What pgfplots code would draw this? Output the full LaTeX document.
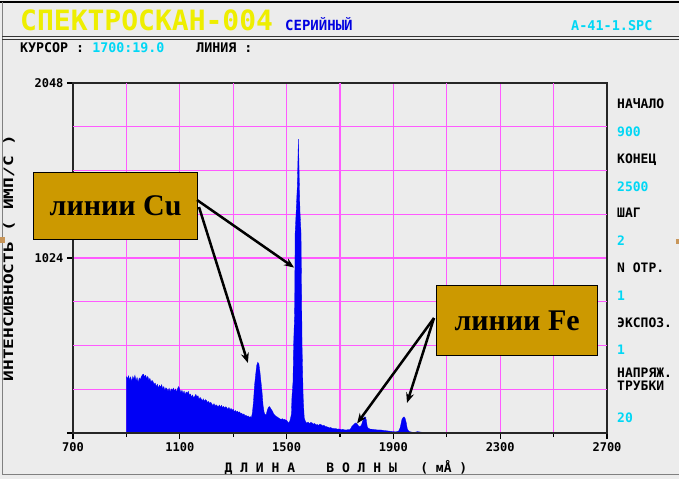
\documentclass[border=0pt]{standalone}
\usepackage{pgfplots}
\pgfplotsset{compat=1.18}
\usepackage{fontspec}
\setmainfont{DejaVu Sans Mono}
\newfontfamily\serifb{Liberation Serif}
\usetikzlibrary{arrows.meta}
\definecolor{bgc}{RGB}{236,236,236}
\definecolor{titley}{RGB}{238,238,0}
\definecolor{blt}{RGB}{0,0,225}
\definecolor{cyn}{RGB}{0,215,245}
\definecolor{gridmag}{RGB}{255,90,255}
\definecolor{specblue}{RGB}{0,0,245}
\definecolor{gold}{RGB}{204,153,0}
\definecolor{tan}{RGB}{200,150,90}
\begin{document}
\begin{tikzpicture}
\fill[bgc] (0,0) rectangle (679pt,-479pt);
% frame lines
\draw[black, line width=1.5pt] (0pt,-2pt) -- (679pt,-2pt);
\draw[gray, line width=1pt] (2pt,-2pt) -- (2pt,-474pt) -- (679pt,-474pt);
\draw[black!80, line width=1pt] (2pt,-36pt) -- (679pt,-36pt);
\draw[black!80, line width=1pt] (2pt,-39.5pt) -- (679pt,-39.5pt);
\fill[tan] (0pt,-237pt) rectangle (5pt,-243pt);
\fill[tan] (676pt,-239pt) rectangle (679pt,-244pt);
% header
\node[anchor=base west, inner sep=0, text=titley] at (20pt,-30pt) {\fontsize{28}{28}\selectfont\bfseries СПЕКТРОСКАН-004};
\node[anchor=base west, inner sep=0, text=blt] at (285pt,-30pt) {\fontsize{14}{14}\selectfont\bfseries СЕРИЙНЫЙ};
\node[anchor=base west, inner sep=0, text=cyn] at (571pt,-30pt) {\fontsize{13.5}{13.5}\selectfont\bfseries A-41-1.SPC};
\node[anchor=base west, inner sep=0] at (20pt,-52pt) {\fontsize{13.3}{13.3}\selectfont\bfseries КУРСОР~:~\textcolor{cyn}{1700:19.0}~~~~ЛИНИЯ~:};
% right panel
\begin{scope}[every node/.style={anchor=base west, inner sep=0, font=\fontsize{13}{13}\selectfont\bfseries}]
\node at (617pt,-108pt) {НАЧАЛО};
\node[text=cyn] at (617pt,-136pt) {900};
\node at (617pt,-163pt) {КОНЕЦ};
\node[text=cyn] at (617pt,-191pt) {2500};
\node at (617pt,-217pt) {ШАГ};
\node[text=cyn] at (617pt,-245pt) {2};
\node at (617pt,-272pt) {N ОТР.};
\node[text=cyn] at (617pt,-300pt) {1};
\node at (617pt,-327pt) {ЭКСПОЗ.};
\node[text=cyn] at (617pt,-354pt) {1};
\node at (617pt,-377pt) {НАПРЯЖ.};
\node at (617pt,-390pt) {ТРУБКИ};
\node[text=cyn] at (617pt,-422pt) {20};
\end{scope}
% axis labels
\node[rotate=90, inner sep=0] at (9pt,-258pt) {\scalebox{1.37}[1]{\fontsize{13}{13}\selectfont\bfseries ИНТЕНСИВНОСТЬ~(~ИМП/С~)}};
\node[inner sep=0] at (346pt,-467pt) {\fontsize{13}{13}\selectfont\bfseries Д~Л~И~Н~А~~~~В~О~Л~Н~Ы~~~(~мÅ~)};
\begin{axis}[
  at={(73pt,-433pt)}, anchor=south west,
  scale only axis, width=534pt, height=350pt,
  xmin=700, xmax=2700, ymin=0, ymax=2048,
  axis line style={line width=1.4pt, black!85},
  xtick={700,1100,1500,1900,2300,2700},
  xticklabels={700,1100,1500,1900,2300,2700},
  ytick={0,1024,2048}, yticklabels={,1024,2048},
  extra x ticks={900,1300,1700,2100,2500}, extra x tick labels={},
  extra x tick style={grid=major, major tick length=4pt},
  extra y ticks={256,512,768,1280,1536,1792}, extra y tick labels={},
  extra y tick style={grid=major, major tick length=0pt},
  tick pos=left, tick align=outside, major tick length=6pt,
  tick style={black, line width=1.2pt},
  grid=major, major grid style={line width=1.3pt, gridmag},
  ticklabel style={font=\fontsize{12}{12}\selectfont\bfseries},
  /pgf/number format/assume math mode=true,
  scaled ticks=false, clip=false,
]
\addplot[draw=specblue, line width=0.3pt, fill=specblue] coordinates {
(900,330) (904,318) (908,335) (912,310) (916,328) (920,300) (924,332) (928,315) (932,338) (936,305)
(940,325) (944,296) (948,322) (952,312) (956,330) (960,340) (964,345) (968,328) (972,338) (976,318)
(980,332) (984,310) (988,320) (992,298) (996,308) (1000,300) (1004,285) (1008,292) (1012,270) (1016,286)
(1020,262) (1024,280) (1028,268) (1032,283) (1036,258) (1040,272) (1044,250) (1048,265) (1052,258) (1056,245)
(1060,262) (1064,240) (1068,258) (1072,250) (1076,263) (1080,245) (1084,258) (1088,238) (1092,262) (1096,272)
(1100,255) (1104,238) (1108,250) (1112,232) (1116,245) (1120,225) (1124,240) (1128,232) (1132,244) (1136,220)
(1140,228) (1144,210) (1148,222) (1152,205) (1156,215) (1160,226) (1164,212) (1168,218) (1172,198) (1176,208)
(1180,200) (1184,188) (1188,200) (1192,185) (1196,195) (1200,190) (1204,178) (1208,185) (1212,172) (1216,180)
(1220,170) (1224,160) (1228,172) (1232,158) (1236,165) (1240,160) (1244,152) (1248,164) (1252,150) (1256,162)
(1260,148) (1264,156) (1268,145) (1272,154) (1276,148) (1280,138) (1284,150) (1288,135) (1292,144) (1296,132)
(1300,140) (1304,125) (1308,132) (1312,122) (1316,128) (1320,118) (1324,124) (1328,112) (1332,116) (1336,106)
(1340,112) (1344,100) (1348,104) (1352,96) (1356,100) (1360,92) (1364,96) (1368,90) (1372,120) (1376,185)
(1380,280) (1384,340) (1388,395) (1392,414) (1396,405) (1400,360) (1404,300) (1408,240) (1412,160) (1416,120)
(1420,105) (1424,110) (1428,135) (1432,150) (1436,155) (1440,145) (1444,135) (1448,125) (1452,110) (1456,105)
(1460,98) (1464,95) (1468,90) (1472,86) (1476,82) (1480,80) (1484,84) (1488,78) (1492,80) (1496,76)
(1500,74) (1504,66) (1508,57) (1512,70) (1516,95) (1518,110) (1520,211) (1524,300) (1526,503) (1530,700)
(1532,1170) (1536,1300) (1540,1441) (1542,1568) (1544,1719) (1546,1600) (1548,1441) (1550,1300) (1554,1170) (1558,503)
(1562,211) (1566,90) (1570,70) (1575,57) (1580,64) (1585,55) (1590,62) (1595,60) (1600,52) (1605,56)
(1610,47) (1615,50) (1620,44) (1625,52) (1630,48) (1635,42) (1640,45) (1645,38) (1650,37) (1655,34)
(1660,30) (1665,32) (1670,28) (1675,27) (1680,25) (1685,26) (1690,22) (1695,24) (1700,22) (1705,20)
(1710,22) (1715,19) (1720,18) (1725,18) (1730,20) (1735,18) (1740,25) (1745,40) (1750,47) (1755,55)
(1760,60) (1765,50) (1770,40) (1775,37) (1780,45) (1785,70) (1790,92) (1794,95) (1798,80) (1802,37)
(1806,28) (1810,25) (1815,22) (1820,22) (1830,20) (1840,18) (1850,18) (1860,16) (1870,14) (1880,12)
(1890,10) (1900,8) (1910,7) (1920,12) (1925,30) (1928,50) (1932,80) (1936,90) (1940,95) (1944,85)
(1948,60) (1952,25) (1956,14) (1960,8) (1970,5) (1980,4) (1990,8) (2000,6) (2010,4) (2020,2)
(2040,1) (2060,0) (2500,0)
} \closedcycle;
\draw[line width=1.4pt, black!85] (axis cs:700,0) -- (axis cs:2700,0);
\coordinate (cuA) at (axis cs:1528,968);
\coordinate (cuB) at (axis cs:1355,410);
\coordinate (feA) at (axis cs:1764,56);
\coordinate (feB) at (axis cs:1951,176);
\end{axis}
% annotations
\node[draw=black, line width=1.2pt, fill=gold, anchor=north west, minimum width=164pt, minimum height=67pt, inner sep=0] at (33pt,-172pt) {\serifb\bfseries\fontsize{30}{30}\selectfont линии Cu};
\node[draw=black, line width=1.2pt, fill=gold, anchor=north west, minimum width=161pt, minimum height=70pt, inner sep=0] at (436pt,-285pt) {\serifb\bfseries\fontsize{30}{30}\selectfont линии Fe};
\begin{scope}[line width=2.5pt, -{Stealth[length=10pt,width=8pt]}]
\draw (197pt,-200pt) -- (cuA);
\draw (199pt,-207pt) -- (cuB);
\draw (434pt,-318pt) -- (feA);
\draw (434pt,-318pt) -- (feB);
\end{scope}
\pgfresetboundingbox
\useasboundingbox (0,0) rectangle (679pt,-479pt);
\end{tikzpicture}
\end{document}
